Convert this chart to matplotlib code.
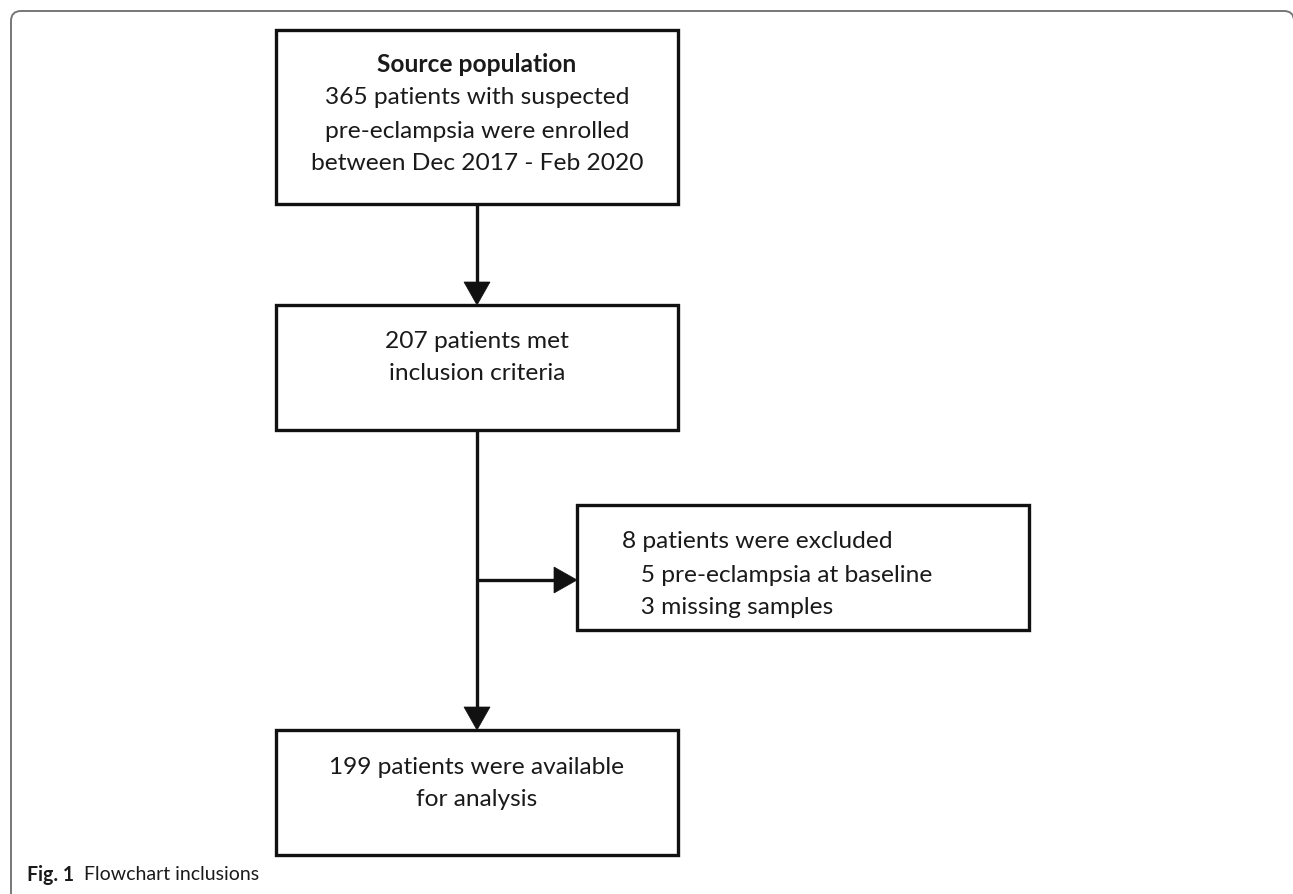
import matplotlib
matplotlib.use("Agg")
import matplotlib.pyplot as plt
from matplotlib.patches import Rectangle, Polygon, PathPatch
from matplotlib.path import Path

# ---- content ----
box_titles = ["Source population", "", "", ""]
box_texts = [
    ["365 patients with suspected", "pre-eclampsia were enrolled", "between Dec 2017 - Feb 2020"],
    ["207 patients met", "inclusion criteria"],
    ["8 patients were excluded", "   5 pre-eclampsia at baseline", "   3 missing samples"],
    ["199 patients were available", "for analysis"],
]
caption_bold = "Fig. 1"
caption_text = "Flowchart inclusions"

# ---- layout (pixels) ----
W, H = 1293, 894
FONT = "Lato"
boxes = [  # x0, y0, x1, y1
    (276, 30, 678, 204),
    (276, 305, 678, 430),
    (577, 505, 1029, 630),
    (276, 730, 678, 855),
]
line_y = [
    [65, 98, 131, 163],
    [342, 374],
    [542, 575, 608],
    [767, 800],
]
cx = 477

fig = plt.figure(figsize=(W / 100, H / 100), dpi=100)
ax = fig.add_axes([0, 0, 1, 1])
ax.set_xlim(0, W)
ax.set_ylim(H, 0)
ax.axis("off")

# fit font size to reference line width
renderer = fig.canvas.get_renderer()
probe = ax.text(0, 0, "between Dec 2017 - Feb 2020", fontsize=20, family=FONT)
wpx = probe.get_window_extent(renderer).width
probe.remove()
fs = 20 * 332 / wpx

# outer frame (top-left rounded, top, top-right rounded, right edge just off canvas)
r = 10
xr = W + 1
verts = [(11, H + 5), (11, 11 + r), (11, 11), (11 + r, 11), (xr - r, 11), (xr, 11), (xr, 11 + r), (xr, H + 5)]
codes = [Path.MOVETO, Path.LINETO, Path.CURVE3, Path.CURVE3, Path.LINETO, Path.CURVE3, Path.CURVE3, Path.LINETO]
ax.add_patch(PathPatch(Path(verts, codes), fill=False, edgecolor="#777777", lw=1.4))

# boxes
for (x0, y0, x1, y1) in boxes:
    ax.add_patch(Rectangle((x0, y0), x1 - x0, y1 - y0, fill=False, edgecolor="#111111", lw=2.4))

# texts
ax.text(cx, line_y[0][0], box_titles[0], ha="center", va="center", fontsize=fs,
        family=FONT, fontweight="bold", color="#1a1a1a")
for i, line in enumerate(box_texts[0]):
    ax.text(cx, line_y[0][i + 1], line, ha="center", va="center", fontsize=fs, family=FONT, color="#1a1a1a")
for i, line in enumerate(box_texts[1]):
    ax.text(cx, line_y[1][i], line, ha="center", va="center", fontsize=fs, family=FONT, color="#1a1a1a")
for i, line in enumerate(box_texts[2]):
    ax.text(622, line_y[2][i], line, ha="left", va="center", fontsize=fs, family=FONT, color="#1a1a1a")
for i, line in enumerate(box_texts[3]):
    ax.text(cx, line_y[3][i], line, ha="center", va="center", fontsize=fs, family=FONT, color="#1a1a1a")

# connectors
def arrow_down(x, y_start, y_tip):
    ax.plot([x, x], [y_start, y_tip - 20], color="#111111", lw=2.4, solid_capstyle="butt")
    ax.add_patch(Polygon([(x - 13, y_tip - 23), (x + 13, y_tip - 23), (x, y_tip)], closed=True,
                         facecolor="#111111", edgecolor="#111111", lw=0.5))

def arrow_right(y, x_start, x_tip):
    ax.plot([x_start, x_tip - 20], [y, y], color="#111111", lw=2.4, solid_capstyle="butt")
    ax.add_patch(Polygon([(x_tip - 23, y - 13), (x_tip - 23, y + 13), (x_tip, y)], closed=True,
                         facecolor="#111111", edgecolor="#111111", lw=0.5))

arrow_down(cx, boxes[0][3], boxes[1][1])
arrow_down(cx, boxes[1][3], boxes[3][1])
arrow_right(580, cx, boxes[2][0])

# caption
t1 = ax.text(27, 875, caption_bold, ha="left", va="center", fontsize=fs * 0.8, family=FONT,
             fontweight="bold", color="#1a1a1a")
bb = t1.get_window_extent(renderer)
ax.text(27 + bb.width + 10, 875, caption_text, ha="left", va="center", fontsize=fs * 0.8,
        family=FONT, color="#1a1a1a")

fig.savefig("out.png", dpi=100, facecolor="white")
